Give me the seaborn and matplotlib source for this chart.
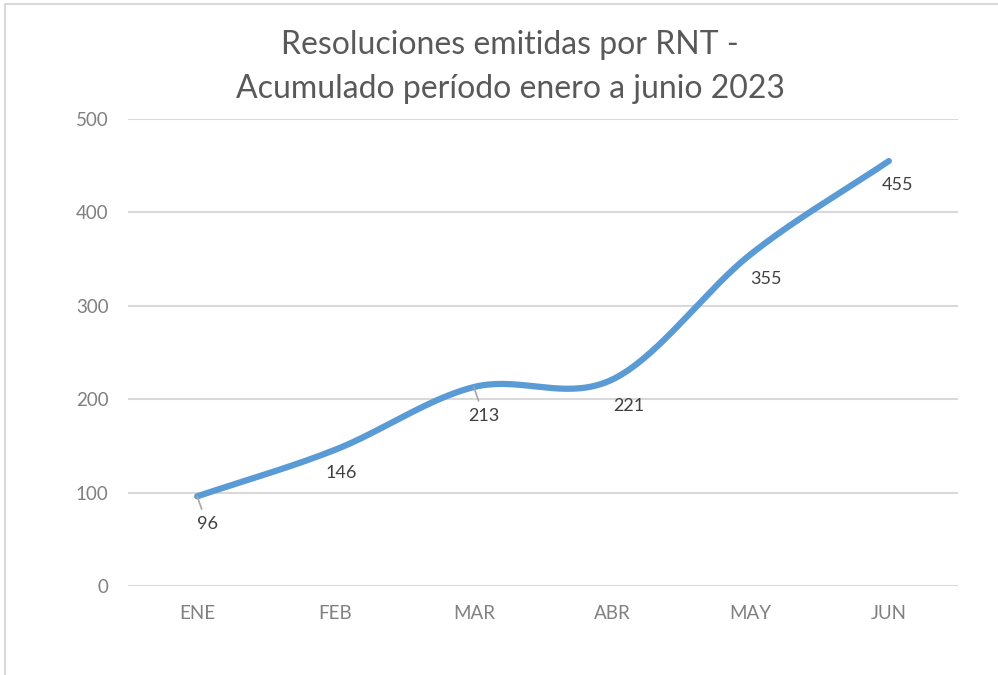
import numpy as np
import pandas as pd
import matplotlib
matplotlib.use("Agg")
import matplotlib.pyplot as plt
from matplotlib.lines import Line2D
import seaborn as sns

# Data
months = ["ENE", "FEB", "MAR", "ABR", "MAY", "JUN"]
values = [96, 146, 213, 221, 355, 455]
# label offsets in pixels (dx, dy) relative to each point
label_dx = [10, 6, 10, 17, 15, 9]
label_dy = [-28, -23, -29, -26, -25, -24]
leader = [True, False, True, False, False, False]

sns.set_theme(style="white")
plt.rcParams["font.family"] = ["Lato", "DejaVu Sans"]

LINE = "#5B9BD5"
GRID = "#D9D9D9"
TXT = "#808080"


def smooth(x, y, n=40):
    # Catmull-Rom style smoothing (like Excel's smoothed line)
    x = np.asarray(x, float)
    y = np.asarray(y, float)
    px = np.concatenate([[2 * x[0] - x[1]], x, [2 * x[-1] - x[-2]]])
    py = np.concatenate([[2 * y[0] - y[1]], y, [2 * y[-1] - y[-2]]])
    xs, ys = [], []
    t = np.linspace(0, 1, n)
    for i in range(1, len(px) - 2):
        p0, p1, p2, p3 = py[i - 1], py[i], py[i + 1], py[i + 2]
        q0, q1, q2, q3 = px[i - 1], px[i], px[i + 1], px[i + 2]
        m1y, m2y = (p2 - p0) / 2, (p3 - p1) / 2
        m1x, m2x = (q2 - q0) / 2, (q3 - q1) / 2
        h00 = 2 * t**3 - 3 * t**2 + 1
        h10 = t**3 - 2 * t**2 + t
        h01 = -2 * t**3 + 3 * t**2
        h11 = t**3 - t**2
        xs.append(h00 * q1 + h10 * m1x + h01 * q2 + h11 * m2x)
        ys.append(h00 * p1 + h10 * m1y + h01 * p2 + h11 * m2y)
    return np.concatenate(xs), np.concatenate(ys)


xpos = np.arange(len(months))
sx, sy = smooth(xpos, values)
curve = pd.DataFrame({"x": sx, "y": sy})

fig = plt.figure(figsize=(9.98, 6.75), dpi=100)
ax = fig.add_axes([128 / 998, 1 - 586 / 675, 830 / 998, 467 / 675])

sns.lineplot(data=curve, x="x", y="y", ax=ax, color=LINE, linewidth=4.5,
             sort=False, solid_capstyle="round", zorder=3)

ax.set_xlim(-0.5, 5.5)
ax.set_ylim(0, 500)
ax.set_yticks([0, 100, 200, 300, 400, 500])
ax.set_xticks(xpos)
ax.set_xticklabels(months)
ax.set_xlabel("")
ax.set_ylabel("")
ax.grid(axis="y", color=GRID, linewidth=1.5)
ax.grid(axis="x", visible=False)
for s in ax.spines.values():
    s.set_visible(False)
ax.tick_params(axis="both", length=0, labelsize=13.5, labelcolor=TXT)
ax.tick_params(axis="x", pad=14)
ax.tick_params(axis="y", pad=14)

for i, v in enumerate(values):
    kw = {}
    if leader[i]:
        kw["arrowprops"] = dict(arrowstyle="-", color="#A6A6A6", lw=1.2,
                                shrinkA=3, shrinkB=0)
    ax.annotate(str(v), xy=(xpos[i], v), xytext=(label_dx[i], label_dy[i]),
                textcoords="offset pixels", ha="center", va="center",
                fontsize=13, color="#404040", **kw)

fig.text(510 / 998, 1 - 67 / 675,
         "Resoluciones emitidas por RNT -\nAcumulado período enero a junio 2023",
         ha="center", va="center", fontsize=23, color="#595959",
         linespacing=1.6)

# outer chart border (top and left visible)
fig.add_artist(Line2D([5 / 998, 1], [1 - 4 / 675, 1 - 4 / 675],
                      transform=fig.transFigure, color=GRID, lw=1.5))
fig.add_artist(Line2D([5 / 998, 5 / 998], [0, 1 - 4 / 675],
                      transform=fig.transFigure, color=GRID, lw=1.5))

fig.savefig("out.png", dpi=100)
